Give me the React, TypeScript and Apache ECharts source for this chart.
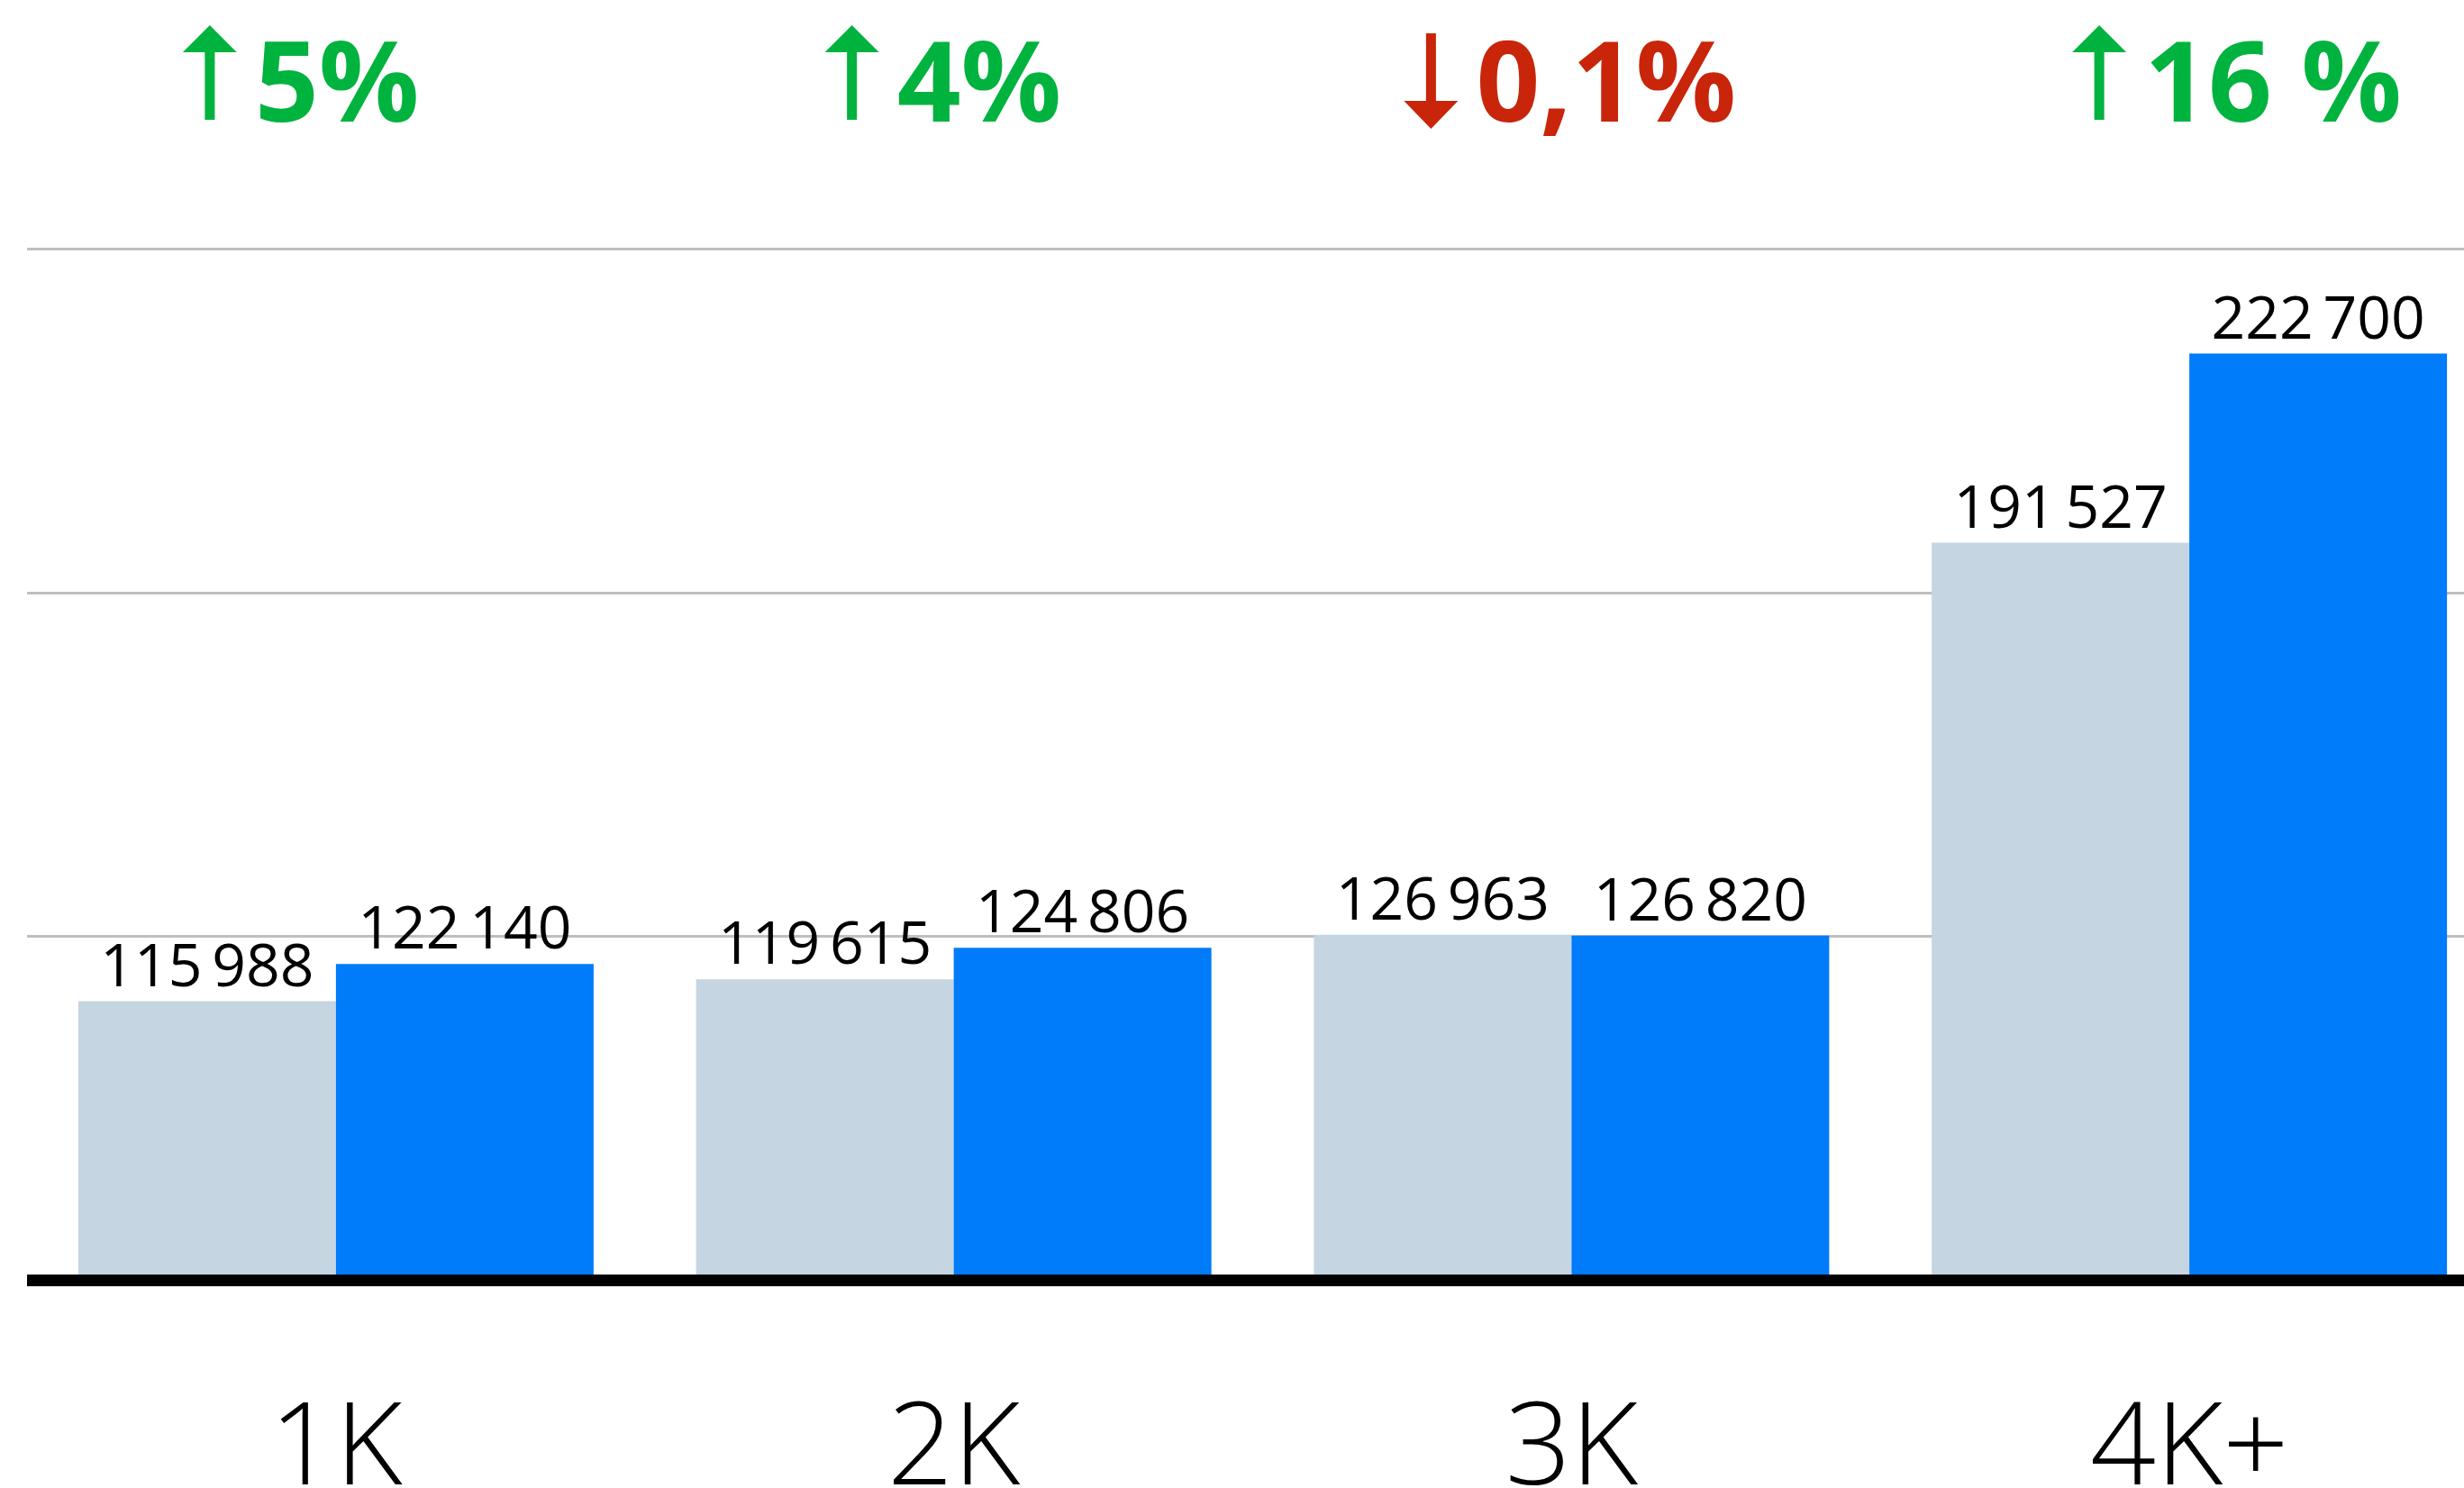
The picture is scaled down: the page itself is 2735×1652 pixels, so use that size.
import React, { useEffect, useRef } from "react";
import * as echarts from "echarts";

// ---- data ----
const categories = ["1K", "2K", "3K", "4K+"];
const previousValues = [115988, 119615, 126963, 191527];
const currentValues = [122140, 124806, 126820, 222700];
const changeLabels = ["5%", "4%", "0,1%", "16 %"];
const changeDirections = ["up", "up", "down", "up"];

// ---- layout / style ----
const Y_MIN = 70000;
const Y_MAX = 240000;
const arrowShift = [-140, -113, -156, -100];
const GREEN = "#00B33E";
const RED = "#C8250A";
const GREY_BAR = "#C5D5E2";
const BLUE_BAR = "#007BFA";
const CHART_W = 2773; // plot extends beyond the visible page on the right
const CHART_H = 1652;

function fmt(v: number): string {
  return String(v).replace(/\B(?=(\d{3})+(?!\d))/g, "\u2009");
}

export default function App() {
  const ref = useRef<HTMLDivElement>(null);
  useEffect(() => {
    if (!ref.current) return;
    const chart = echarts.init(ref.current, null, { renderer: "svg" });
    const valueLabel = {
      show: true,
      position: "top" as const,
      distance: 10,
      color: "#000",
      fontFamily: "Open Sans",
      fontSize: 66,
      formatter: (p: any) => fmt(p.value),
    };
    chart.setOption({
      animation: false,
      backgroundColor: "#fff",
      grid: {
        left: 30,
        right: 0,
        top: 276,
        bottom: 230.5,
        containLabel: false,
        outerBoundsMode: "none",
      },
      xAxis: {
        type: "category",
        data: categories,
        z: 5,
        axisLine: { show: true, lineStyle: { color: "#000", width: 13, cap: "butt" } },
        axisTick: { show: false },
        axisLabel: {
          color: "#000",
          fontFamily: "Open Sans",
          fontWeight: 300,
          fontSize: 128,
          lineHeight: 90,
          margin: 132,
        },
      },
      yAxis: {
        type: "value",
        min: Y_MIN,
        max: Y_MAX,
        interval: (Y_MAX - Y_MIN) / 3,
        axisLine: { show: false },
        axisTick: { show: false },
        axisLabel: { show: false },
        splitLine: { show: true, lineStyle: { color: "#BFBFBF", width: 3 } },
      },
      series: [
        {
          type: "bar",
          data: previousValues,
          barWidth: 286,
          barGap: "0%",
          itemStyle: { color: GREY_BAR },
          label: valueLabel,
        },
        {
          type: "bar",
          data: currentValues,
          barWidth: 286,
          barGap: "0%",
          itemStyle: { color: BLUE_BAR },
          label: valueLabel,
        },
      ],
    });

    const elements: any[] = [];
    categories.forEach((c, i) => {
      const cx = chart.convertToPixel({ xAxisIndex: 0 }, c) as number;
      const ax = cx + arrowShift[i];
      const up = changeDirections[i] === "up";
      const color = up ? GREEN : RED;
      const pts = up
        ? [[ax, 28], [ax + 30, 58], [ax + 5.5, 58], [ax + 5.5, 133], [ax - 5.5, 133], [ax - 5.5, 58], [ax - 30, 58]]
        : [[ax - 5.5, 37], [ax + 5.5, 37], [ax + 5.5, 112], [ax + 30, 112], [ax, 143], [ax - 30, 112], [ax - 5.5, 112]];
      elements.push({ type: "polygon", shape: { points: pts }, style: { fill: color } });
      elements.push({
        type: "text",
        x: ax + 50,
        y: 86.5,
        style: {
          text: changeLabels[i],
          fill: color,
          fontFamily: "Open Sans",
          fontWeight: "bold",
          fontSize: 124,
          align: "left",
          verticalAlign: "middle",
        },
      });
    });
    chart.setOption({ graphic: { elements } });

    return () => chart.dispose();
  }, []);
  return (
    <div
      style={{
        position: "fixed",
        left: 0,
        top: 0,
        width: 2735,
        height: CHART_H,
        overflow: "hidden",
        background: "#fff",
      }}
    >
      <div ref={ref} style={{ width: CHART_W, height: CHART_H }} />
    </div>
  );
}
